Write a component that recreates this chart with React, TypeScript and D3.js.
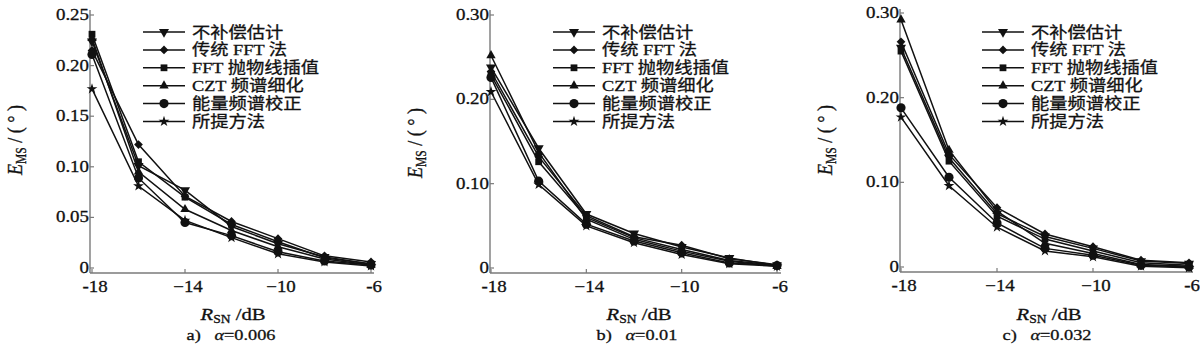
import React from 'react';
import * as d3 from 'd3';

// ---------------- data ----------------
const SNR = [-18, -16, -14, -12, -10, -8, -6];
const SERIES_NAMES = ['不补偿估计', '传统 FFT 法', 'FFT 抛物线插值', 'CZT 频谱细化', '能量频谱校正', '所提方法'];
const SERIES_MARKERS = ['tri-down', 'diamond', 'square', 'triangle', 'circle', 'star'];

// panel a) alpha = 0.006 ; one row per series, columns follow SNR
const panelA_noComp = [0.224, 0.101, 0.077, 0.041, 0.024, 0.011, 0.004];
const panelA_fft = [0.215, 0.122, 0.071, 0.046, 0.029, 0.012, 0.006];
const panelA_parabola = [0.231, 0.105, 0.070, 0.043, 0.026, 0.010, 0.004];
const panelA_czt = [0.227, 0.095, 0.058, 0.037, 0.021, 0.009, 0.003];
const panelA_energy = [0.211, 0.089, 0.045, 0.032, 0.016, 0.007, 0.003];
const panelA_proposed = [0.177, 0.081, 0.047, 0.030, 0.014, 0.006, 0.002];

// panel b) alpha = 0.01
const panelB_noComp = [0.238, 0.142, 0.064, 0.041, 0.025, 0.012, 0.003];
const panelB_fft = [0.233, 0.132, 0.062, 0.037, 0.027, 0.011, 0.004];
const panelB_parabola = [0.229, 0.126, 0.060, 0.036, 0.022, 0.009, 0.003];
const panelB_czt = [0.252, 0.137, 0.058, 0.034, 0.020, 0.008, 0.002];
const panelB_energy = [0.226, 0.103, 0.052, 0.032, 0.018, 0.006, 0.003];
const panelB_proposed = [0.209, 0.099, 0.050, 0.030, 0.016, 0.005, 0.002];

// panel c) alpha = 0.032
const panelC_noComp = [0.259, 0.129, 0.063, 0.036, 0.022, 0.007, 0.004];
const panelC_fft = [0.266, 0.133, 0.070, 0.039, 0.024, 0.008, 0.005];
const panelC_parabola = [0.255, 0.125, 0.060, 0.033, 0.019, 0.005, 0.002];
const panelC_czt = [0.292, 0.138, 0.066, 0.028, 0.016, 0.003, 0.001];
const panelC_energy = [0.188, 0.106, 0.052, 0.022, 0.014, 0.002, 0.000];
const panelC_proposed = [0.177, 0.096, 0.047, 0.019, 0.012, 0.001, -0.001];

const X_TICKS = [-18, -14, -10, -6];
const X_TICK_LABELS = ['-18', '−14', '−10', '-6'];
const Y_TICKS_A = [0, 0.05, 0.1, 0.15, 0.2, 0.25];
const Y_TICK_LABELS_A = ['0', '0.05', '0.10', '0.15', '0.20', '0.25'];
const Y_TICKS_BC = [0, 0.1, 0.2, 0.3];
const Y_TICK_LABELS_BC = ['0', '0.10', '0.20', '0.30'];
const CAPTION_LETTERS = ['a)', 'b)', 'c)'];
const CAPTION_ALPHAS = ['=0.006', '=0.01', '=0.032'];

// ---------------- layout ----------------
const SX = 1.18; // horizontal glyph stretch of the reference
const FONT = "'Liberation Serif', 'Noto Sans CJK SC', serif";
const CJK_FONT = "'Liberation Serif', 'Noto Sans CJK SC', sans-serif";
const AXIS_COLOR = '#7a7a7a';
const INK = '#111';

const PANELS = [
  {
    series: [panelA_noComp, panelA_fft, panelA_parabola, panelA_czt, panelA_energy, panelA_proposed],
    yTicks: Y_TICKS_A, yLabels: Y_TICK_LABELS_A, yMax: 0.25,
    axisX: 90, xr: [92, 371], y0: 268, yTop: 15, axisTop: 10, axisRight: 374,
    legX: 143, yLabX: 16, yLabY: 140, capX: 231,
  },
  {
    series: [panelB_noComp, panelB_fft, panelB_parabola, panelB_czt, panelB_energy, panelB_proposed],
    yTicks: Y_TICKS_BC, yLabels: Y_TICK_LABELS_BC, yMax: 0.3,
    axisX: 490, xr: [491, 777], y0: 268, yTop: 15, axisTop: 10, axisRight: 781,
    legX: 553, yLabX: 416, yLabY: 143, capX: 637,
  },
  {
    series: [panelC_noComp, panelC_fft, panelC_parabola, panelC_czt, panelC_energy, panelC_proposed],
    yTicks: Y_TICKS_BC, yLabels: Y_TICK_LABELS_BC, yMax: 0.3,
    axisX: 900, xr: [901, 1189], y0: 267, yTop: 13, axisTop: 9, axisRight: 1193,
    legX: 982, yLabX: 826, yLabY: 140, capX: 1047,
  },
];

function markerPath(kind: string): string {
  const map: Record<string, [d3.SymbolType, number]> = {
    'tri-down': [d3.symbolTriangle, 44],
    diamond: [d3.symbolSquare, 38],
    square: [d3.symbolSquare, 46],
    triangle: [d3.symbolTriangle, 38],
    circle: [d3.symbolCircle, 66],
    star: [d3.symbolStar, 36],
  };
  const [t, s] = map[kind];
  return d3.symbol(t, s)() as string;
}

function Marker({ kind, x, y }: { kind: string; x: number; y: number }) {
  const rot = kind === 'tri-down' ? ' rotate(180)' : kind === 'diamond' ? ' rotate(45)' : '';
  return <path d={markerPath(kind)} transform={`translate(${x},${y})${rot}`} fill={INK} stroke="none" />;
}

function T({ x, y, anchor = 'start', size = 16, children, family = FONT, rotate = false }: any) {
  const tf = rotate
    ? `translate(${x},${y}) rotate(-90) scale(1,${SX})`
    : `translate(${x},${y}) scale(${SX},1)`;
  return (
    <text
      transform={tf}
      textAnchor={anchor}
      fontSize={size}
      fontFamily={family}
      fill={INK}
      stroke={INK}
      strokeWidth={0.3}
    >
      {children}
    </text>
  );
}

function Panel({ p, idx }: { p: any; idx: number }) {
  const x = d3.scaleLinear().domain([-18, -6]).range(p.xr);
  const y = d3.scaleLinear().domain([0, p.yMax]).range([p.y0, p.yTop]);
  const axisY = p.y0 + 5;
  const line = d3.line<number>().x((_, i) => x(SNR[i])).y((v) => y(v));
  const legRow0 = 32;
  const legStep = 17.9;
  return (
    <g>
      {/* axes */}
      <line x1={p.axisX} x2={p.axisX} y1={p.axisTop} y2={axisY} stroke={AXIS_COLOR} strokeWidth={1.4} />
      <line x1={p.axisX} x2={p.axisRight} y1={axisY} y2={axisY} stroke={AXIS_COLOR} strokeWidth={1.4} />
      {p.yTicks.map((t: number, i: number) => (
        <g key={'yt' + i}>
          <line x1={p.axisX} x2={p.axisX + 4} y1={y(t)} y2={y(t)} stroke={AXIS_COLOR} strokeWidth={1.2} />
          <T x={p.axisX - 1} y={y(t) + 5} anchor="end" size={16}>{p.yLabels[i]}</T>
        </g>
      ))}
      {X_TICKS.map((t, i) => (
        <g key={'xt' + i}>
          <line x1={x(t)} x2={x(t)} y1={axisY} y2={axisY - 4} stroke={AXIS_COLOR} strokeWidth={1.2} />
          <T x={x(t) + 3} y={axisY + 18.5} anchor="middle" size={16}>{X_TICK_LABELS[i]}</T>
        </g>
      ))}
      {/* series */}
      {p.series.map((vals: number[], s: number) => (
        <g key={'s' + s}>
          <path d={line(vals) as string} fill="none" stroke={INK} strokeWidth={1.5} />
          {vals.map((v, i) => (
            <Marker key={i} kind={SERIES_MARKERS[s]} x={x(SNR[i])} y={y(v)} />
          ))}
        </g>
      ))}
      {/* legend */}
      {SERIES_NAMES.map((name, s) => {
        const ly = legRow0 + s * legStep;
        return (
          <g key={'lg' + s}>
            <line x1={p.legX} x2={p.legX + 42} y1={ly} y2={ly} stroke={INK} strokeWidth={1.5} />
            <Marker kind={SERIES_MARKERS[s]} x={p.legX + 21} y={ly} />
            <T x={p.legX + 49} y={ly + 5.5} size={15.5} family={CJK_FONT}>{name}</T>
          </g>
        );
      })}
      {/* y label */}
      <T x={p.yLabX + 6} y={p.yLabY} anchor="middle" size={18} rotate>
        <tspan fontStyle="italic">E</tspan>
        <tspan fontSize={11.5} dy={3}>MS</tspan>
        <tspan dy={-3}> / ( ° )</tspan>
      </T>
      {/* x label */}
      <T x={p.capX + 2} y={320} anchor="middle" size={17.5}>
        <tspan fontStyle="italic">R</tspan>
        <tspan fontSize={11.5} dy={3}>SN</tspan>
        <tspan dy={-3}> /dB</tspan>
      </T>
      {/* caption */}
      <T x={p.capX} y={340} anchor="middle" size={15.5}>
        <tspan>{CAPTION_LETTERS[idx]}</tspan>
        <tspan>{'\u00a0\u00a0\u00a0'}</tspan>
        <tspan fontStyle="italic">α</tspan>
        <tspan>{CAPTION_ALPHAS[idx]}</tspan>
      </T>
    </g>
  );
}

export default function App() {
  return (
    <svg
      width={1200}
      height={345}
      viewBox="0 0 1200 345"
      style={{ position: 'absolute', left: 0, top: 0, background: '#fff' }}
    >
      <rect x={0} y={0} width={1200} height={345} fill="#fff" />
      {PANELS.map((p, i) => (
        <Panel key={i} p={p} idx={i} />
      ))}
    </svg>
  );
}
